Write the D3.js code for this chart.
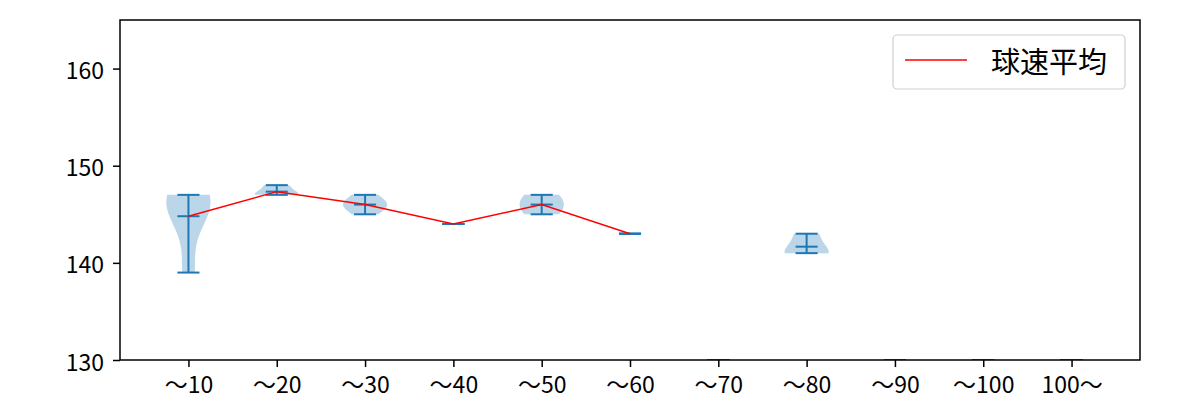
<!DOCTYPE html>
<html>
<head>
<meta charset="utf-8">
<script src="https://cdn.jsdelivr.net/npm/d3@7"></script>
<style>
  body { margin: 0; background: #fff; }
  svg { display: block; }
  text { font-family: "Noto Sans CJK JP", "Noto Sans", sans-serif; fill: #000; }
</style>
</head>
<body>
<svg id="chart" width="1200" height="400"></svg>
<script>
// ---- data ----
const categories = ["〜10", "〜20", "〜30", "〜40", "〜50", "〜60", "〜70", "〜80", "〜90", "〜100", "100〜"];
const speeds10 = [139, 145, 146, 147, 147];
const speeds20 = [147, 147, 148];
const speeds30 = [145, 146, 146, 147];
const speeds40 = [144];
const speeds50 = [145, 146, 147];
const speeds60 = [143];
const speeds70 = [130];
const speeds80 = [141, 141, 143];
const speeds90 = [130];
const speeds100 = [130];
const speeds100plus = [130];
const speedMeans = [144.8, 147.33, 146, 144, 146, 143, null, 141.67, null, null, null];
const yTicks = [130, 140, 150, 160];
const legendLabel = "球速平均";

const groups = [speeds10, speeds20, speeds30, speeds40, speeds50, speeds60,
                speeds70, speeds80, speeds90, speeds100, speeds100plus];

// ---- layout ----
const L = 120, R = 1140, T = 20, B = 360;
const svg = d3.select("#chart");
const x = d3.scaleLinear().domain([0.225, 11.775]).range([L, R]);
const y = d3.scaleLinear().domain([130, 165]).range([B, T]);
const blue = "#1f77b4";
const violinWidth = 0.5;

svg.append("defs").append("clipPath").attr("id", "clip")
  .append("rect").attr("x", L).attr("y", T).attr("width", R - L).attr("height", B - T);

const plot = svg.append("g").attr("clip-path", "url(#clip)");

// gaussian KDE (Scott's rule) like matplotlib's violinplot
function kde(data) {
  const n = data.length;
  const sd = d3.deviation(data);
  if (n < 2 || !sd) return null;
  const bw = sd * Math.pow(n, -1 / 5);
  const lo = d3.min(data), hi = d3.max(data);
  const coords = d3.range(100).map(i => lo + (hi - lo) * i / 99);
  return coords.map(c => [c, d3.sum(data, v => Math.exp(-0.5 * ((c - v) / bw) ** 2))]);
}

groups.forEach((data, i) => {
  const pos = i + 1;
  const dens = kde(data);
  if (dens) {
    const maxD = d3.max(dens, d => d[1]);
    const hw = d => d[1] / maxD * violinWidth / 2;
    const area = d3.area()
      .y(d => y(d[0]))
      .x0(d => x(pos - hw(d)))
      .x1(d => x(pos + hw(d)));
    plot.append("path").datum(dens).attr("d", area)
      .attr("fill", blue).attr("fill-opacity", 0.3).attr("stroke", "none");
  }
  const lo = d3.min(data), hi = d3.max(data), mean = d3.mean(data);
  const capL = x(pos - violinWidth / 4), capR = x(pos + violinWidth / 4);
  [lo, hi, mean].forEach(v => {
    plot.append("line").attr("x1", capL).attr("x2", capR)
      .attr("y1", y(v)).attr("y2", y(v))
      .attr("stroke", blue).attr("stroke-width", 2);
  });
  plot.append("line").attr("x1", x(pos)).attr("x2", x(pos))
    .attr("y1", y(lo)).attr("y2", y(hi))
    .attr("stroke", blue).attr("stroke-width", 2);
});

// mean line
const line = d3.line()
  .defined(d => d != null)
  .x((d, i) => x(i + 1))
  .y(d => y(d));
plot.append("path").datum(speedMeans).attr("d", line)
  .attr("fill", "none").attr("stroke", "red").attr("stroke-width", 1.5);

// axes
const yAxis = d3.axisLeft(y).tickValues(yTicks).tickSize(7).tickSizeOuter(0).tickPadding(9);
const gy = svg.append("g").attr("transform", `translate(${L},0)`).call(yAxis);
gy.select(".domain").remove();
gy.selectAll(".tick line").attr("stroke", "#000").attr("stroke-width", 1.5);
gy.selectAll(".tick text").attr("font-size", 23).attr("dy", null)
  .attr("dominant-baseline", "central").attr("font-family", '"Noto Sans CJK JP", sans-serif');

const xAxis = d3.axisBottom(x).tickValues(d3.range(1, 12))
  .tickFormat(d => categories[d - 1]).tickSize(7).tickSizeOuter(0).tickPadding(9);
const gx = svg.append("g").attr("transform", `translate(0,${B})`).call(xAxis);
gx.select(".domain").remove();
gx.selectAll(".tick line").attr("stroke", "#000").attr("stroke-width", 1.5);
gx.selectAll(".tick text").attr("font-size", 23).attr("dy", null).attr("y", 23)
  .attr("dominant-baseline", "central").attr("font-family", '"Noto Sans CJK JP", sans-serif');

// frame
svg.append("rect").attr("x", L).attr("y", T).attr("width", R - L).attr("height", B - T)
  .attr("fill", "none").attr("stroke", "#000").attr("stroke-width", 1.5);

// legend
const lg = svg.append("g");
lg.append("rect").attr("x", 893).attr("y", 35).attr("width", 232).attr("height", 54)
  .attr("rx", 4).attr("fill", "#fff").attr("fill-opacity", 0.8)
  .attr("stroke", "#d0d0d0").attr("stroke-width", 1.2);
lg.append("line").attr("x1", 905).attr("x2", 967).attr("y1", 60).attr("y2", 60)
  .attr("stroke", "red").attr("stroke-width", 1.5);
lg.append("text").attr("x", 991).attr("y", 60).attr("dominant-baseline", "central")
  .attr("font-size", 29).text(legendLabel);
</script>
</body>
</html>
